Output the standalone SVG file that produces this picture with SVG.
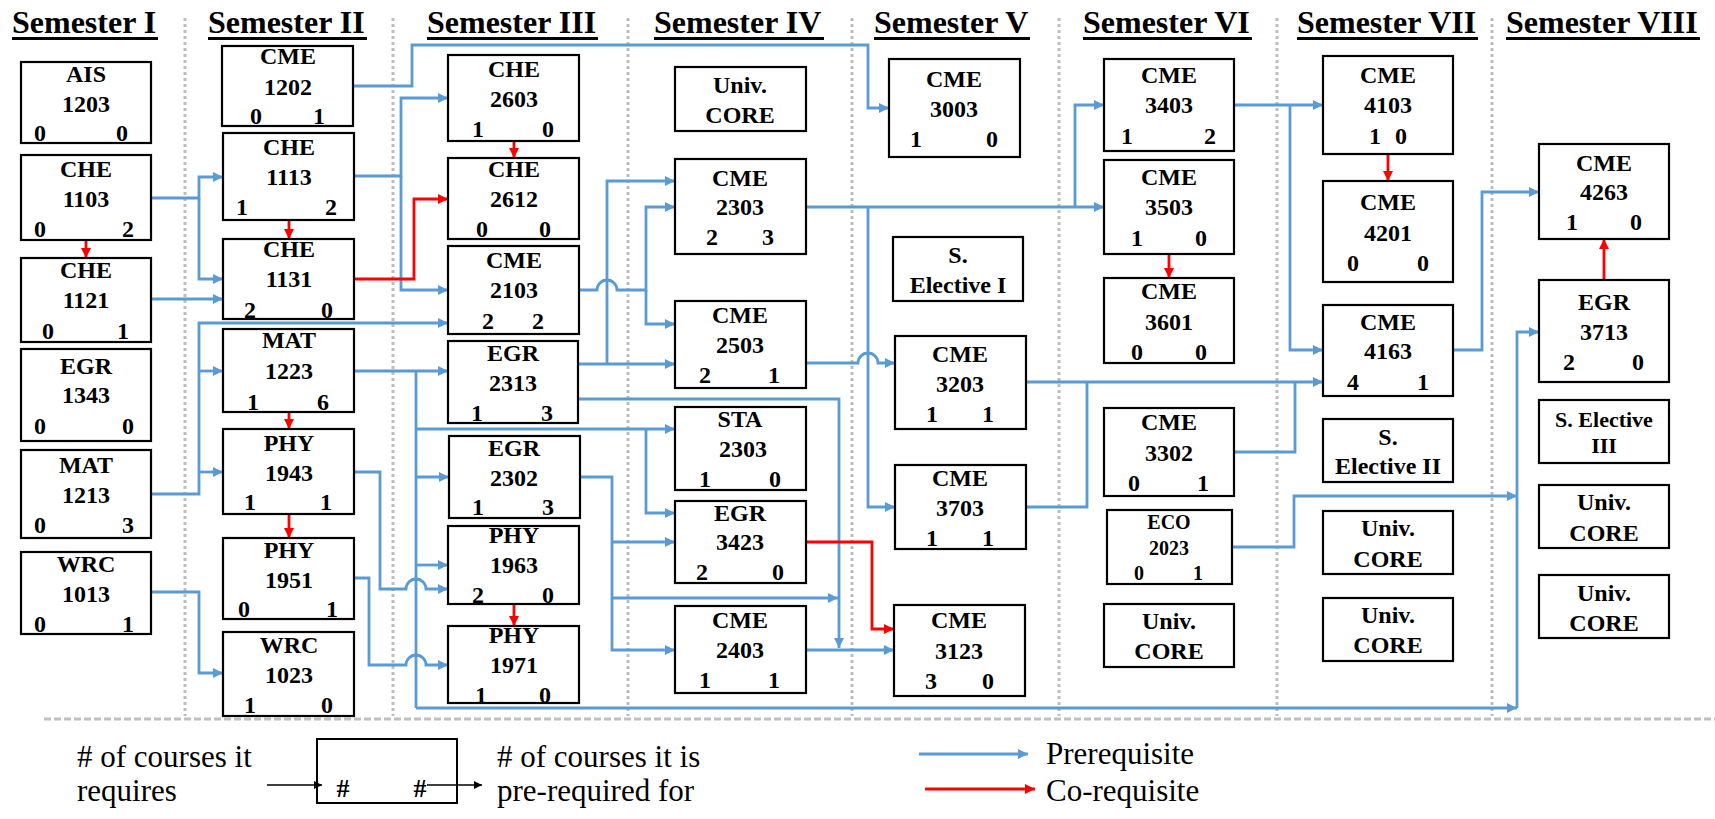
<svg xmlns="http://www.w3.org/2000/svg" width="1715" height="819" viewBox="0 0 1715 819" font-family="Liberation Serif, Times New Roman, DejaVu Serif, serif">
<style>
.bx{fill:#fff;stroke:#000;stroke-width:2.2}
.t{font-weight:bold;font-size:24px;text-anchor:middle;fill:#000}
.s{font-size:20px}
.s2{font-size:22px}
.ttl{font-weight:bold;font-size:32px;fill:#000}
.ul{stroke:#000;stroke-width:2.8}
.lg{font-size:31px;fill:#000}
.sep{stroke:#BDBDBD;stroke-width:3;stroke-dasharray:3 3;fill:none}
.hd{stroke:#C0C0C0;stroke-width:3;stroke-dasharray:7 3;fill:none}
.b{fill:none;stroke:#5B9BD5;stroke-width:2.8}
.ba{fill:none;stroke:#5B9BD5;stroke-width:2.8;marker-end:url(#ab)}
.ra{fill:none;stroke:#FF0000;stroke-width:2.8;marker-end:url(#ar)}
.ka{fill:none;stroke:#000;stroke-width:1.5;marker-end:url(#ak)}
</style>
<defs>
<marker id="ab" viewBox="0 0 10 10" refX="10" refY="5" markerWidth="10" markerHeight="10" markerUnits="userSpaceOnUse" orient="auto"><path d="M0,0 L10,5 L0,10 z" fill="#5B9BD5"/></marker>
<marker id="ar" viewBox="0 0 10 10" refX="10" refY="5" markerWidth="10" markerHeight="10" markerUnits="userSpaceOnUse" orient="auto"><path d="M0,0 L10,5 L0,10 z" fill="#FF0000"/></marker>
<marker id="ak" viewBox="0 0 10 10" refX="10" refY="5" markerWidth="8" markerHeight="8" markerUnits="userSpaceOnUse" orient="auto"><path d="M0,0 L10,5 L0,10 z" fill="#000"/></marker>
</defs>
<rect width="1715" height="819" fill="#fff"/>

<g id="separators">
<line class="sep" x1="185" y1="18" x2="185" y2="716"/>
<line class="sep" x1="393" y1="18" x2="393" y2="716"/>
<line class="sep" x1="628" y1="18" x2="628" y2="716"/>
<line class="sep" x1="852" y1="18" x2="852" y2="716"/>
<line class="sep" x1="1059" y1="18" x2="1059" y2="716"/>
<line class="sep" x1="1277" y1="18" x2="1277" y2="716"/>
<line class="sep" x1="1492" y1="18" x2="1492" y2="716"/>
<line class="hd" x1="44" y1="719" x2="1715" y2="719"/>
</g>

<g id="titles" font-family="Liberation Serif, serif">
<text class="ttl" x="12" y="33">Semester I</text><line class="ul" x1="12" y1="38.5" x2="158" y2="38.5"/>
<text class="ttl" x="208" y="33">Semester II</text><line class="ul" x1="208" y1="38.5" x2="367" y2="38.5"/>
<text class="ttl" x="427" y="33">Semester III</text><line class="ul" x1="427" y1="38.5" x2="598" y2="38.5"/>
<text class="ttl" x="654" y="33">Semester IV</text><line class="ul" x1="654" y1="38.5" x2="824" y2="38.5"/>
<text class="ttl" x="874" y="33">Semester V</text><line class="ul" x1="874" y1="38.5" x2="1030" y2="38.5"/>
<text class="ttl" x="1083" y="33">Semester VI</text><line class="ul" x1="1083" y1="38.5" x2="1252" y2="38.5"/>
<text class="ttl" x="1297" y="33">Semester VII</text><line class="ul" x1="1297" y1="38.5" x2="1478" y2="38.5"/>
<text class="ttl" x="1506" y="33">Semester VIII</text><line class="ul" x1="1506" y1="38.5" x2="1700" y2="38.5"/>
</g>

<g id="connectors">
<path class="ba" d="M151,198 H199 V177 H223"/>
<path class="ba" d="M199,198 V279 H223"/>
<path class="ba" d="M151,299 H223"/>
<path class="ba" d="M151,494 H199 V323 H448"/>
<path class="ba" d="M199,371 H223"/>
<path class="ba" d="M199,472 H223"/>
<path class="ba" d="M151,592 H199 V673 H223"/>
<path class="ba" d="M353,86 H412 V45 H868 V108 H889"/>
<path class="ba" d="M354,176 H401 V98 H448"/>
<path class="ba" d="M401,176 V290 H448"/>
<path class="ba" d="M354,371 H448"/>
<path class="b" d="M416,371 V708"/>
<path class="ba" d="M416,429 H675"/>
<path class="ba" d="M646,429 V513 H675"/>
<path class="ba" d="M416,477 H449"/>
<path class="ba" d="M416,565 H448"/>
<path class="ba" d="M416,708 H1517"/>
<path class="ba" d="M1517,708 V332 H1539"/>
<path class="ba" d="M354,472 H380 V589 H406 A10,10 0 0 1 426,589 H448"/>
<path class="ba" d="M354,578 H369 V665 H406 A10,10 0 0 1 426,665 H448"/>
<path class="ba" d="M579,290 H597 A10,10 0 0 1 617,290 H646 V207 H675"/>
<path class="ba" d="M646,290 V324 H675"/>
<path class="ba" d="M578,364 H675"/>
<path class="ba" d="M607,364 V181 H675"/>
<path class="ba" d="M578,399 H839 V648"/>
<path class="ba" d="M580,477 H612 V650 H675"/>
<path class="ba" d="M612,542 H675"/>
<path class="ba" d="M612,598 H838"/>
<path class="ba" d="M806,650 H894"/>
<path class="ba" d="M806,207 H1104"/>
<path class="ba" d="M1075,207 V105 H1104"/>
<path class="ba" d="M868,207 V507 H895"/>
<path class="ba" d="M806,363 H858 A10,10 0 0 1 878,363 H895"/>
<path class="ba" d="M1026,382 H1323"/>
<path class="b" d="M1026,507 H1087 V382"/>
<path class="b" d="M1234,452 H1295 V382"/>
<path class="ba" d="M1232,547 H1294 V496 H1517"/>
<path class="ba" d="M1234,105 H1323"/>
<path class="ba" d="M1290,105 V350 H1323"/>
<path class="ba" d="M1453,350 H1482 V192 H1539"/>
<path class="ra" d="M354,279 H414 V199 H448"/>
<path class="ra" d="M806,542 H872 V629 H894"/>
<path class="ra" d="M86,240 V258"/>
<path class="ra" d="M289,220 V239"/>
<path class="ra" d="M289,412 V429"/>
<path class="ra" d="M289,514 V538"/>
<path class="ra" d="M514,141 V158"/>
<path class="ra" d="M514,604 V626"/>
<path class="ra" d="M1169,254 V278"/>
<path class="ra" d="M1388,154 V181"/>
<path class="ra" d="M1604,280 V239"/>
</g>

<g id="n-ais1203"><rect class="bx" x="21" y="62" width="130" height="81"/><text class="t" x="86" y="82">AIS</text><text class="t" x="86" y="112">1203</text><text class="t" x="40" y="141">0</text><text class="t" x="122" y="141">0</text></g>
<g id="n-che1103"><rect class="bx" x="21" y="155" width="130" height="85"/><text class="t" x="86" y="177">CHE</text><text class="t" x="86" y="207">1103</text><text class="t" x="40" y="237">0</text><text class="t" x="128" y="237">2</text></g>
<g id="n-che1121"><rect class="bx" x="21" y="258" width="130" height="84"/><text class="t" x="86" y="278">CHE</text><text class="t" x="86" y="308">1121</text><text class="t" x="48" y="339">0</text><text class="t" x="123" y="339">1</text></g>
<g id="n-egr1343"><rect class="bx" x="21" y="349" width="130" height="92"/><text class="t" x="86" y="374">EGR</text><text class="t" x="86" y="403">1343</text><text class="t" x="40" y="434">0</text><text class="t" x="128" y="434">0</text></g>
<g id="n-mat1213"><rect class="bx" x="21" y="450" width="130" height="88"/><text class="t" x="86" y="473">MAT</text><text class="t" x="86" y="503">1213</text><text class="t" x="40" y="533">0</text><text class="t" x="128" y="533">3</text></g>
<g id="n-wrc1013"><rect class="bx" x="21" y="552" width="130" height="82"/><text class="t" x="86" y="572">WRC</text><text class="t" x="86" y="602">1013</text><text class="t" x="40" y="632">0</text><text class="t" x="128" y="632">1</text></g>

<g id="n-cme1202"><rect class="bx" x="222" y="46" width="131" height="80"/><text class="t" x="288" y="64">CME</text><text class="t" x="288" y="95">1202</text><text class="t" x="256" y="124">0</text><text class="t" x="319" y="124">1</text></g>
<g id="n-che1113"><rect class="bx" x="223" y="133" width="131" height="87"/><text class="t" x="289" y="155">CHE</text><text class="t" x="289" y="185">1113</text><text class="t" x="242" y="215">1</text><text class="t" x="331" y="215">2</text></g>
<g id="n-che1131"><rect class="bx" x="223" y="239" width="131" height="80"/><text class="t" x="289" y="257">CHE</text><text class="t" x="289" y="287">1131</text><text class="t" x="250" y="318">2</text><text class="t" x="327" y="318">0</text></g>
<g id="n-mat1223"><rect class="bx" x="223" y="329" width="131" height="83"/><text class="t" x="289" y="348">MAT</text><text class="t" x="289" y="379">1223</text><text class="t" x="253" y="410">1</text><text class="t" x="323" y="410">6</text></g>
<g id="n-phy1943"><rect class="bx" x="223" y="429" width="131" height="85"/><text class="t" x="289" y="451">PHY</text><text class="t" x="289" y="481">1943</text><text class="t" x="250" y="510">1</text><text class="t" x="326" y="510">1</text></g>
<g id="n-phy1951"><rect class="bx" x="223" y="538" width="131" height="81"/><text class="t" x="289" y="558">PHY</text><text class="t" x="289" y="588">1951</text><text class="t" x="244" y="617">0</text><text class="t" x="332" y="617">1</text></g>
<g id="n-wrc1023"><rect class="bx" x="223" y="632" width="131" height="84"/><text class="t" x="289" y="653">WRC</text><text class="t" x="289" y="683">1023</text><text class="t" x="250" y="713">1</text><text class="t" x="327" y="713">0</text></g>

<g id="n-che2603"><rect class="bx" x="448" y="55" width="131" height="86"/><text class="t" x="514" y="77">CHE</text><text class="t" x="514" y="107">2603</text><text class="t" x="478" y="137">1</text><text class="t" x="548" y="137">0</text></g>
<g id="n-che2612"><rect class="bx" x="448" y="158" width="131" height="81"/><text class="t" x="514" y="177">CHE</text><text class="t" x="514" y="207">2612</text><text class="t" x="482" y="237">0</text><text class="t" x="545" y="237">0</text></g>
<g id="n-cme2103"><rect class="bx" x="448" y="246" width="131" height="88"/><text class="t" x="514" y="268">CME</text><text class="t" x="514" y="298">2103</text><text class="t" x="488" y="329">2</text><text class="t" x="538" y="329">2</text></g>
<g id="n-egr2313"><rect class="bx" x="448" y="341" width="130" height="82"/><text class="t" x="513" y="361">EGR</text><text class="t" x="513" y="391">2313</text><text class="t" x="477" y="421">1</text><text class="t" x="547" y="421">3</text></g>
<g id="n-egr2302"><rect class="bx" x="449" y="436" width="131" height="82"/><text class="t" x="514" y="456">EGR</text><text class="t" x="514" y="486">2302</text><text class="t" x="478" y="515">1</text><text class="t" x="548" y="515">3</text></g>
<g id="n-phy1963"><rect class="bx" x="448" y="526" width="131" height="78"/><text class="t" x="514" y="543">PHY</text><text class="t" x="514" y="573">1963</text><text class="t" x="478" y="603">2</text><text class="t" x="548" y="603">0</text></g>
<g id="n-phy1971"><rect class="bx" x="448" y="626" width="131" height="77"/><text class="t" x="514" y="643">PHY</text><text class="t" x="514" y="673">1971</text><text class="t" x="481" y="703">1</text><text class="t" x="545" y="703">0</text></g>

<g id="n-univ4"><rect class="bx" x="675" y="67" width="131" height="64"/><text class="t" x="740" y="93">Univ.</text><text class="t" x="740" y="123">CORE</text></g>
<g id="n-cme2303"><rect class="bx" x="675" y="159" width="131" height="95"/><text class="t" x="740" y="186">CME</text><text class="t" x="740" y="215">2303</text><text class="t" x="712" y="245">2</text><text class="t" x="768" y="245">3</text></g>
<g id="n-cme2503"><rect class="bx" x="675" y="301" width="131" height="87"/><text class="t" x="740" y="323">CME</text><text class="t" x="740" y="353">2503</text><text class="t" x="705" y="383">2</text><text class="t" x="774" y="383">1</text></g>
<g id="n-sta2303"><rect class="bx" x="675" y="407" width="131" height="83"/><text class="t" x="740" y="427">STA</text><text class="t" x="743" y="457">2303</text><text class="t" x="705" y="487">1</text><text class="t" x="775" y="487">0</text></g>
<g id="n-egr3423"><rect class="bx" x="675" y="501" width="131" height="82"/><text class="t" x="740" y="521">EGR</text><text class="t" x="740" y="550">3423</text><text class="t" x="702" y="580">2</text><text class="t" x="778" y="580">0</text></g>
<g id="n-cme2403"><rect class="bx" x="675" y="606" width="131" height="87"/><text class="t" x="740" y="628">CME</text><text class="t" x="740" y="658">2403</text><text class="t" x="705" y="688">1</text><text class="t" x="774" y="688">1</text></g>

<g id="n-cme3003"><rect class="bx" x="889" y="59" width="131" height="98"/><text class="t" x="954" y="87">CME</text><text class="t" x="954" y="117">3003</text><text class="t" x="916" y="147">1</text><text class="t" x="992" y="147">0</text></g>
<g id="n-selec1"><rect class="bx" x="893" y="237" width="130" height="64"/><text class="t" x="958" y="263">S.</text><text class="t" x="958" y="293">Elective I</text></g>
<g id="n-cme3203"><rect class="bx" x="895" y="336" width="131" height="93"/><text class="t" x="960" y="362">CME</text><text class="t" x="960" y="392">3203</text><text class="t" x="932" y="422">1</text><text class="t" x="988" y="422">1</text></g>
<g id="n-cme3703"><rect class="bx" x="895" y="465" width="131" height="84"/><text class="t" x="960" y="486">CME</text><text class="t" x="960" y="516">3703</text><text class="t" x="932" y="546">1</text><text class="t" x="988" y="546">1</text></g>
<g id="n-cme3123"><rect class="bx" x="894" y="605" width="131" height="91"/><text class="t" x="959" y="628">CME</text><text class="t" x="959" y="659">3123</text><text class="t" x="931" y="689">3</text><text class="t" x="988" y="689">0</text></g>

<g id="n-cme3403"><rect class="bx" x="1104" y="59" width="130" height="92"/><text class="t" x="1169" y="83">CME</text><text class="t" x="1169" y="113">3403</text><text class="t" x="1127" y="144">1</text><text class="t" x="1210" y="144">2</text></g>
<g id="n-cme3503"><rect class="bx" x="1104" y="160" width="130" height="94"/><text class="t" x="1169" y="185">CME</text><text class="t" x="1169" y="215">3503</text><text class="t" x="1137" y="246">1</text><text class="t" x="1201" y="246">0</text></g>
<g id="n-cme3601"><rect class="bx" x="1104" y="278" width="130" height="85"/><text class="t" x="1169" y="299">CME</text><text class="t" x="1169" y="330">3601</text><text class="t" x="1137" y="360">0</text><text class="t" x="1201" y="360">0</text></g>
<g id="n-cme3302"><rect class="bx" x="1104" y="408" width="130" height="88"/><text class="t" x="1169" y="430">CME</text><text class="t" x="1169" y="461">3302</text><text class="t" x="1134" y="491">0</text><text class="t" x="1203" y="491">1</text></g>
<g id="n-eco2023"><rect class="bx" x="1107" y="510" width="125" height="74"/><text class="t s" x="1169" y="529">ECO</text><text class="t s" x="1169" y="555">2023</text><text class="t s" x="1139" y="580">0</text><text class="t s" x="1198" y="580">1</text></g>
<g id="n-univ6"><rect class="bx" x="1104" y="604" width="130" height="63"/><text class="t" x="1169" y="629">Univ.</text><text class="t" x="1169" y="659">CORE</text></g>

<g id="n-cme4103"><rect class="bx" x="1323" y="56" width="130" height="98"/><text class="t" x="1388" y="83">CME</text><text class="t" x="1388" y="113">4103</text><text class="t" x="1375" y="144">1</text><text class="t" x="1401" y="144">0</text></g>
<g id="n-cme4201"><rect class="bx" x="1323" y="181" width="130" height="101"/><text class="t" x="1388" y="210">CME</text><text class="t" x="1388" y="241">4201</text><text class="t" x="1353" y="271">0</text><text class="t" x="1423" y="271">0</text></g>
<g id="n-cme4163"><rect class="bx" x="1323" y="305" width="130" height="91"/><text class="t" x="1388" y="330">CME</text><text class="t" x="1388" y="359">4163</text><text class="t" x="1353" y="390">4</text><text class="t" x="1423" y="390">1</text></g>
<g id="n-selec2"><rect class="bx" x="1323" y="419" width="130" height="63"/><text class="t" x="1388" y="445">S.</text><text class="t" x="1388" y="474">Elective II</text></g>
<g id="n-univ7a"><rect class="bx" x="1323" y="511" width="130" height="63"/><text class="t" x="1388" y="536">Univ.</text><text class="t" x="1388" y="567">CORE</text></g>
<g id="n-univ7b"><rect class="bx" x="1323" y="598" width="130" height="63"/><text class="t" x="1388" y="623">Univ.</text><text class="t" x="1388" y="653">CORE</text></g>

<g id="n-cme4263"><rect class="bx" x="1539" y="144" width="130" height="95"/><text class="t" x="1604" y="171">CME</text><text class="t" x="1604" y="200">4263</text><text class="t" x="1572" y="230">1</text><text class="t" x="1636" y="230">0</text></g>
<g id="n-egr3713"><rect class="bx" x="1539" y="280" width="130" height="102"/><text class="t" x="1604" y="310">EGR</text><text class="t" x="1604" y="340">3713</text><text class="t" x="1569" y="370">2</text><text class="t" x="1638" y="370">0</text></g>
<g id="n-selec3"><rect class="bx" x="1539" y="400" width="130" height="63"/><text class="t s2" x="1604" y="427">S. Elective</text><text class="t s2" x="1604" y="453">III</text></g>
<g id="n-univ8a"><rect class="bx" x="1539" y="485" width="130" height="63"/><text class="t" x="1604" y="510">Univ.</text><text class="t" x="1604" y="541">CORE</text></g>
<g id="n-univ8b"><rect class="bx" x="1539" y="575" width="130" height="63"/><text class="t" x="1604" y="601">Univ.</text><text class="t" x="1604" y="631">CORE</text></g>

<g id="legend">
<text class="lg" x="77" y="767"># of courses it</text>
<text class="lg" x="77" y="801">requires</text>
<rect x="317" y="739" width="140" height="64" fill="none" stroke="#000" stroke-width="2"/>
<text class="t" x="343" y="797" style="font-size:26px">#</text>
<text class="t" x="420" y="797" style="font-size:26px">#</text>
<path class="ka" d="M267,785 H322"/>
<path class="ka" d="M427,785 H482"/>
<text class="lg" x="497" y="767"># of courses it is</text>
<text class="lg" x="497" y="801">pre-required for</text>
<path class="ba" d="M919,754 H1028"/>
<text class="lg" x="1046" y="764">Prerequisite</text>
<path class="ra" d="M925,789 H1035"/>
<text class="lg" x="1046" y="801">Co-requisite</text>
</g>
</svg>
